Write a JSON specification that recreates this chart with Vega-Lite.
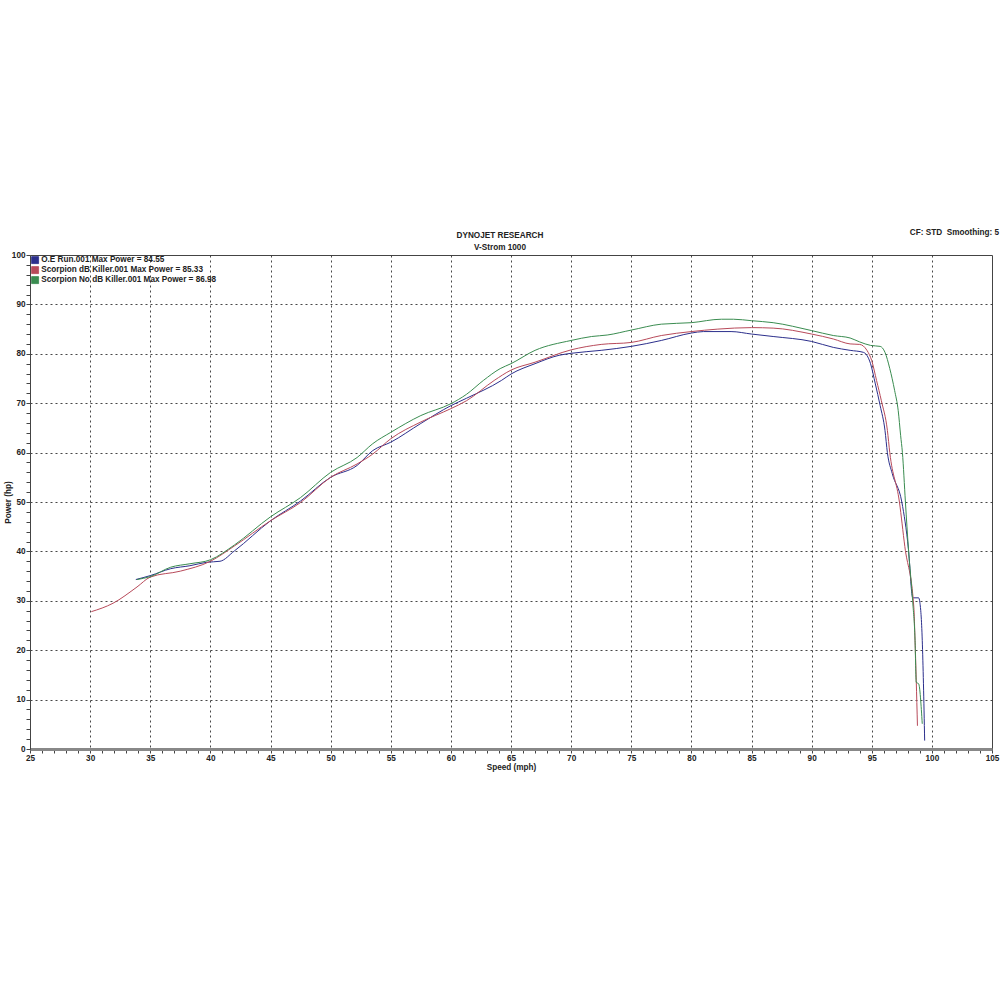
{
  "$schema": "https://vega.github.io/schema/vega-lite/v6.json",
  "width": 962,
  "height": 494,
  "autosize": "none",
  "padding": {"left": 30, "top": 255, "right": 8, "bottom": 251},
  "background": "white",
  "title": {
    "text": ["DYNOJET RESEARCH", "V-Strom 1000"],
    "font": "Liberation Sans",
    "fontSize": 8.2,
    "fontWeight": "bold",
    "color": "#222222",
    "lineHeight": 12,
    "offset": -24,
    "dx": -11
  },
  "config": {
    "view": {"stroke": "#444444", "strokeWidth": 1},
    "font": "Liberation Sans"
  },
  "datasets": {
    "runs": [
      {"series": "O.E Run.001 Max Power = 84.55", "mph": 33.8, "hp": 34.3},
      {"series": "O.E Run.001 Max Power = 84.55", "mph": 35.0, "hp": 35.1},
      {"series": "O.E Run.001 Max Power = 84.55", "mph": 36.7, "hp": 36.5},
      {"series": "O.E Run.001 Max Power = 84.55", "mph": 38.3, "hp": 37.1},
      {"series": "O.E Run.001 Max Power = 84.55", "mph": 39.7, "hp": 37.8},
      {"series": "O.E Run.001 Max Power = 84.55", "mph": 40.8, "hp": 38.0},
      {"series": "O.E Run.001 Max Power = 84.55", "mph": 42.0, "hp": 40.1},
      {"series": "O.E Run.001 Max Power = 84.55", "mph": 45.0, "hp": 46.2},
      {"series": "O.E Run.001 Max Power = 84.55", "mph": 47.5, "hp": 50.2},
      {"series": "O.E Run.001 Max Power = 84.55", "mph": 50.0, "hp": 55.0},
      {"series": "O.E Run.001 Max Power = 84.55", "mph": 52.2, "hp": 57.4},
      {"series": "O.E Run.001 Max Power = 84.55", "mph": 53.5, "hp": 60.4},
      {"series": "O.E Run.001 Max Power = 84.55", "mph": 55.0, "hp": 62.1},
      {"series": "O.E Run.001 Max Power = 84.55", "mph": 57.5, "hp": 65.9},
      {"series": "O.E Run.001 Max Power = 84.55", "mph": 60.0, "hp": 69.5},
      {"series": "O.E Run.001 Max Power = 84.55", "mph": 61.3, "hp": 71.0},
      {"series": "O.E Run.001 Max Power = 84.55", "mph": 64.2, "hp": 74.6},
      {"series": "O.E Run.001 Max Power = 84.55", "mph": 65.0, "hp": 75.9},
      {"series": "O.E Run.001 Max Power = 84.55", "mph": 67.0, "hp": 78.0},
      {"series": "O.E Run.001 Max Power = 84.55", "mph": 69.0, "hp": 79.7},
      {"series": "O.E Run.001 Max Power = 84.55", "mph": 70.0, "hp": 80.1},
      {"series": "O.E Run.001 Max Power = 84.55", "mph": 72.5, "hp": 80.7},
      {"series": "O.E Run.001 Max Power = 84.55", "mph": 75.0, "hp": 81.5},
      {"series": "O.E Run.001 Max Power = 84.55", "mph": 77.5, "hp": 82.7},
      {"series": "O.E Run.001 Max Power = 84.55", "mph": 80.0, "hp": 84.2},
      {"series": "O.E Run.001 Max Power = 84.55", "mph": 81.0, "hp": 84.5},
      {"series": "O.E Run.001 Max Power = 84.55", "mph": 83.3, "hp": 84.5},
      {"series": "O.E Run.001 Max Power = 84.55", "mph": 85.0, "hp": 84.0},
      {"series": "O.E Run.001 Max Power = 84.55", "mph": 86.8, "hp": 83.5},
      {"series": "O.E Run.001 Max Power = 84.55", "mph": 90.0, "hp": 82.5},
      {"series": "O.E Run.001 Max Power = 84.55", "mph": 91.8, "hp": 81.3},
      {"series": "O.E Run.001 Max Power = 84.55", "mph": 93.2, "hp": 80.7},
      {"series": "O.E Run.001 Max Power = 84.55", "mph": 94.3, "hp": 80.3},
      {"series": "O.E Run.001 Max Power = 84.55", "mph": 94.9, "hp": 78.0},
      {"series": "O.E Run.001 Max Power = 84.55", "mph": 95.3, "hp": 73.9},
      {"series": "O.E Run.001 Max Power = 84.55", "mph": 95.7, "hp": 69.5},
      {"series": "O.E Run.001 Max Power = 84.55", "mph": 96.1, "hp": 64.5},
      {"series": "O.E Run.001 Max Power = 84.55", "mph": 96.3, "hp": 60.0},
      {"series": "O.E Run.001 Max Power = 84.55", "mph": 96.7, "hp": 55.8},
      {"series": "O.E Run.001 Max Power = 84.55", "mph": 97.5, "hp": 50.0},
      {"series": "O.E Run.001 Max Power = 84.55", "mph": 98.05, "hp": 40.5},
      {"series": "O.E Run.001 Max Power = 84.55", "mph": 98.4, "hp": 30.7},
      {"series": "O.E Run.001 Max Power = 84.55", "mph": 98.5, "hp": 30.6},
      {"series": "O.E Run.001 Max Power = 84.55", "mph": 98.9, "hp": 30.6},
      {"series": "O.E Run.001 Max Power = 84.55", "mph": 99.0, "hp": 29.7},
      {"series": "O.E Run.001 Max Power = 84.55", "mph": 99.2, "hp": 22.0},
      {"series": "O.E Run.001 Max Power = 84.55", "mph": 99.3, "hp": 13.2},
      {"series": "O.E Run.001 Max Power = 84.55", "mph": 99.4, "hp": 1.7},

      {"series": "Scorpion dB Killer.001 Max Power = 85.33", "mph": 30.1, "hp": 27.8},
      {"series": "Scorpion dB Killer.001 Max Power = 85.33", "mph": 31.9, "hp": 29.5},
      {"series": "Scorpion dB Killer.001 Max Power = 85.33", "mph": 33.9, "hp": 32.8},
      {"series": "Scorpion dB Killer.001 Max Power = 85.33", "mph": 35.0, "hp": 34.8},
      {"series": "Scorpion dB Killer.001 Max Power = 85.33", "mph": 37.5, "hp": 36.0},
      {"series": "Scorpion dB Killer.001 Max Power = 85.33", "mph": 40.0, "hp": 38.0},
      {"series": "Scorpion dB Killer.001 Max Power = 85.33", "mph": 42.0, "hp": 41.1},
      {"series": "Scorpion dB Killer.001 Max Power = 85.33", "mph": 45.0, "hp": 46.2},
      {"series": "Scorpion dB Killer.001 Max Power = 85.33", "mph": 47.5, "hp": 49.9},
      {"series": "Scorpion dB Killer.001 Max Power = 85.33", "mph": 50.0, "hp": 55.0},
      {"series": "Scorpion dB Killer.001 Max Power = 85.33", "mph": 52.2, "hp": 57.7},
      {"series": "Scorpion dB Killer.001 Max Power = 85.33", "mph": 53.5, "hp": 59.7},
      {"series": "Scorpion dB Killer.001 Max Power = 85.33", "mph": 55.0, "hp": 62.8},
      {"series": "Scorpion dB Killer.001 Max Power = 85.33", "mph": 57.5, "hp": 66.2},
      {"series": "Scorpion dB Killer.001 Max Power = 85.33", "mph": 60.0, "hp": 68.9},
      {"series": "Scorpion dB Killer.001 Max Power = 85.33", "mph": 61.3, "hp": 70.5},
      {"series": "Scorpion dB Killer.001 Max Power = 85.33", "mph": 63.6, "hp": 74.6},
      {"series": "Scorpion dB Killer.001 Max Power = 85.33", "mph": 65.0, "hp": 76.7},
      {"series": "Scorpion dB Killer.001 Max Power = 85.33", "mph": 67.0, "hp": 78.3},
      {"series": "Scorpion dB Killer.001 Max Power = 85.33", "mph": 70.0, "hp": 80.8},
      {"series": "Scorpion dB Killer.001 Max Power = 85.33", "mph": 72.5, "hp": 81.9},
      {"series": "Scorpion dB Killer.001 Max Power = 85.33", "mph": 75.0, "hp": 82.3},
      {"series": "Scorpion dB Killer.001 Max Power = 85.33", "mph": 77.5, "hp": 83.7},
      {"series": "Scorpion dB Killer.001 Max Power = 85.33", "mph": 80.0, "hp": 84.5},
      {"series": "Scorpion dB Killer.001 Max Power = 85.33", "mph": 82.2, "hp": 85.0},
      {"series": "Scorpion dB Killer.001 Max Power = 85.33", "mph": 85.0, "hp": 85.3},
      {"series": "Scorpion dB Killer.001 Max Power = 85.33", "mph": 86.8, "hp": 85.2},
      {"series": "Scorpion dB Killer.001 Max Power = 85.33", "mph": 90.0, "hp": 84.0},
      {"series": "Scorpion dB Killer.001 Max Power = 85.33", "mph": 91.8, "hp": 83.0},
      {"series": "Scorpion dB Killer.001 Max Power = 85.33", "mph": 93.2, "hp": 82.0},
      {"series": "Scorpion dB Killer.001 Max Power = 85.33", "mph": 94.0, "hp": 81.9},
      {"series": "Scorpion dB Killer.001 Max Power = 85.33", "mph": 94.6, "hp": 80.7},
      {"series": "Scorpion dB Killer.001 Max Power = 85.33", "mph": 95.0, "hp": 78.6},
      {"series": "Scorpion dB Killer.001 Max Power = 85.33", "mph": 95.4, "hp": 74.6},
      {"series": "Scorpion dB Killer.001 Max Power = 85.33", "mph": 95.8, "hp": 70.5},
      {"series": "Scorpion dB Killer.001 Max Power = 85.33", "mph": 96.3, "hp": 64.5},
      {"series": "Scorpion dB Killer.001 Max Power = 85.33", "mph": 96.5, "hp": 60.0},
      {"series": "Scorpion dB Killer.001 Max Power = 85.33", "mph": 97.3, "hp": 50.0},
      {"series": "Scorpion dB Killer.001 Max Power = 85.33", "mph": 97.75, "hp": 41.0},
      {"series": "Scorpion dB Killer.001 Max Power = 85.33", "mph": 98.5, "hp": 28.7},
      {"series": "Scorpion dB Killer.001 Max Power = 85.33", "mph": 98.6, "hp": 22.0},
      {"series": "Scorpion dB Killer.001 Max Power = 85.33", "mph": 98.7, "hp": 13.9},
      {"series": "Scorpion dB Killer.001 Max Power = 85.33", "mph": 98.8, "hp": 4.7},

      {"series": "Scorpion No dB Killer.001 Max Power = 86.98", "mph": 33.9, "hp": 34.3},
      {"series": "Scorpion No dB Killer.001 Max Power = 86.98", "mph": 35.0, "hp": 34.9},
      {"series": "Scorpion No dB Killer.001 Max Power = 86.98", "mph": 36.7, "hp": 36.8},
      {"series": "Scorpion No dB Killer.001 Max Power = 86.98", "mph": 38.3, "hp": 37.5},
      {"series": "Scorpion No dB Killer.001 Max Power = 86.98", "mph": 40.0, "hp": 38.3},
      {"series": "Scorpion No dB Killer.001 Max Power = 86.98", "mph": 42.0, "hp": 41.3},
      {"series": "Scorpion No dB Killer.001 Max Power = 86.98", "mph": 45.0, "hp": 47.0},
      {"series": "Scorpion No dB Killer.001 Max Power = 86.98", "mph": 47.5, "hp": 50.9},
      {"series": "Scorpion No dB Killer.001 Max Power = 86.98", "mph": 50.0, "hp": 56.0},
      {"series": "Scorpion No dB Killer.001 Max Power = 86.98", "mph": 52.2, "hp": 59.0},
      {"series": "Scorpion No dB Killer.001 Max Power = 86.98", "mph": 53.5, "hp": 61.8},
      {"series": "Scorpion No dB Killer.001 Max Power = 86.98", "mph": 55.0, "hp": 64.1},
      {"series": "Scorpion No dB Killer.001 Max Power = 86.98", "mph": 57.5, "hp": 67.5},
      {"series": "Scorpion No dB Killer.001 Max Power = 86.98", "mph": 60.0, "hp": 69.9},
      {"series": "Scorpion No dB Killer.001 Max Power = 86.98", "mph": 61.3, "hp": 71.8},
      {"series": "Scorpion No dB Killer.001 Max Power = 86.98", "mph": 62.7, "hp": 74.6},
      {"series": "Scorpion No dB Killer.001 Max Power = 86.98", "mph": 64.1, "hp": 77.0},
      {"series": "Scorpion No dB Killer.001 Max Power = 86.98", "mph": 65.0, "hp": 78.0},
      {"series": "Scorpion No dB Killer.001 Max Power = 86.98", "mph": 67.0, "hp": 80.7},
      {"series": "Scorpion No dB Killer.001 Max Power = 86.98", "mph": 70.0, "hp": 82.7},
      {"series": "Scorpion No dB Killer.001 Max Power = 86.98", "mph": 71.7, "hp": 83.5},
      {"series": "Scorpion No dB Killer.001 Max Power = 86.98", "mph": 73.0, "hp": 83.8},
      {"series": "Scorpion No dB Killer.001 Max Power = 86.98", "mph": 75.0, "hp": 84.8},
      {"series": "Scorpion No dB Killer.001 Max Power = 86.98", "mph": 77.5, "hp": 86.0},
      {"series": "Scorpion No dB Killer.001 Max Power = 86.98", "mph": 80.0, "hp": 86.3},
      {"series": "Scorpion No dB Killer.001 Max Power = 86.98", "mph": 82.5, "hp": 87.0},
      {"series": "Scorpion No dB Killer.001 Max Power = 86.98", "mph": 83.5, "hp": 87.0},
      {"series": "Scorpion No dB Killer.001 Max Power = 86.98", "mph": 85.0, "hp": 86.7},
      {"series": "Scorpion No dB Killer.001 Max Power = 86.98", "mph": 86.8, "hp": 86.3},
      {"series": "Scorpion No dB Killer.001 Max Power = 86.98", "mph": 90.0, "hp": 84.7},
      {"series": "Scorpion No dB Killer.001 Max Power = 86.98", "mph": 91.8, "hp": 83.7},
      {"series": "Scorpion No dB Killer.001 Max Power = 86.98", "mph": 93.2, "hp": 83.2},
      {"series": "Scorpion No dB Killer.001 Max Power = 86.98", "mph": 94.0, "hp": 82.4},
      {"series": "Scorpion No dB Killer.001 Max Power = 86.98", "mph": 94.9, "hp": 81.7},
      {"series": "Scorpion No dB Killer.001 Max Power = 86.98", "mph": 95.7, "hp": 81.5},
      {"series": "Scorpion No dB Killer.001 Max Power = 86.98", "mph": 96.1, "hp": 80.3},
      {"series": "Scorpion No dB Killer.001 Max Power = 86.98", "mph": 96.5, "hp": 77.0},
      {"series": "Scorpion No dB Killer.001 Max Power = 86.98", "mph": 96.9, "hp": 72.6},
      {"series": "Scorpion No dB Killer.001 Max Power = 86.98", "mph": 97.2, "hp": 68.5},
      {"series": "Scorpion No dB Killer.001 Max Power = 86.98", "mph": 97.4, "hp": 63.5},
      {"series": "Scorpion No dB Killer.001 Max Power = 86.98", "mph": 97.55, "hp": 60.0},
      {"series": "Scorpion No dB Killer.001 Max Power = 86.98", "mph": 97.8, "hp": 50.0},
      {"series": "Scorpion No dB Killer.001 Max Power = 86.98", "mph": 98.05, "hp": 40.5},
      {"series": "Scorpion No dB Killer.001 Max Power = 86.98", "mph": 98.4, "hp": 30.0},
      {"series": "Scorpion No dB Killer.001 Max Power = 86.98", "mph": 98.6, "hp": 22.0},
      {"series": "Scorpion No dB Killer.001 Max Power = 86.98", "mph": 98.7, "hp": 13.5},
      {"series": "Scorpion No dB Killer.001 Max Power = 86.98", "mph": 98.9, "hp": 13.2},
      {"series": "Scorpion No dB Killer.001 Max Power = 86.98", "mph": 99.2, "hp": 5.1}
    ],
    "note": [{"label": "CF: STD\u00a0 Smoothing: 5", "mph": 105, "hp": 104.4}]
  },
  "layer": [
    {
      "data": {"name": "runs"},
      "mark": {"type": "line", "strokeWidth": 1, "interpolate": "monotone", "clip": true},
      "encoding": {
        "x": {
          "field": "mph",
          "type": "quantitative",
          "scale": {"domain": [25, 105], "nice": false, "zero": false},
          "axis": {
            "title": "Speed (mph)",
            "titleFont": "Liberation Sans",
            "titleFontSize": 8.2,
            "titleFontWeight": "bold",
            "titleColor": "#222222",
            "titlePadding": 2,
            "tickCount": 200,
            "format": "d",
            "values": [25,26,27,28,29,30,31,32,33,34,35,36,37,38,39,40,41,42,43,44,45,46,47,48,49,50,51,52,53,54,55,56,57,58,59,60,61,62,63,64,65,66,67,68,69,70,71,72,73,74,75,76,77,78,79,80,81,82,83,84,85,86,87,88,89,90,91,92,93,94,95,96,97,98,99,100,101,102,103,104,105],
            "labelExpr": "datum.value % 5 === 0 ? datum.label : ''",
            "labelOverlap": false,
            "labelFlush": false,
            "labelFont": "Liberation Sans",
            "labelFontSize": 8.2,
            "labelFontWeight": "bold",
            "labelColor": "#222222",
            "labelPadding": 1,
            "tickSize": 4,
            "tickColor": "#444444",
            "domainColor": "#888888",
            "domainWidth": 3,
            "grid": true,
            "gridColor": "#333333",
            "gridDash": [2, 3],
            "gridWidth": 1,
            "gridOpacity": {"condition": {"test": "datum.value % 5 === 0 && datum.value > 25 && datum.value < 105", "value": 0.9}, "value": 0}
          }
        },
        "y": {
          "field": "hp",
          "type": "quantitative",
          "scale": {"domain": [0, 100], "nice": false},
          "axis": {
            "title": "Power (hp)",
            "titleFont": "Liberation Sans",
            "titleFontSize": 8.2,
            "titleFontWeight": "bold",
            "titleColor": "#222222",
            "titlePadding": -1,
            "tickCount": 200,
            "format": "d",
            "values": [0,2,4,6,8,10,12,14,16,18,20,22,24,26,28,30,32,34,36,38,40,42,44,46,48,50,52,54,56,58,60,62,64,66,68,70,72,74,76,78,80,82,84,86,88,90,92,94,96,98,100],
            "labelExpr": "datum.value % 10 === 0 ? datum.label : ''",
            "labelOverlap": false,
            "labelFlush": false,
            "labelFont": "Liberation Sans",
            "labelFontSize": 8.2,
            "labelFontWeight": "bold",
            "labelColor": "#222222",
            "labelPadding": 1,
            "tickSize": 4,
            "tickColor": "#444444",
            "domainColor": "#444444",
            "domainWidth": 1,
            "grid": true,
            "gridColor": "#333333",
            "gridDash": [2, 3],
            "gridWidth": 1,
            "gridOpacity": {"condition": {"test": "datum.value % 10 === 0 && datum.value > 0 && datum.value < 100", "value": 0.9}, "value": 0}
          }
        },
        "color": {
          "field": "series",
          "type": "nominal",
          "scale": {
            "domain": ["O.E Run.001 Max Power = 84.55", "Scorpion dB Killer.001 Max Power = 85.33", "Scorpion No dB Killer.001 Max Power = 86.98"],
            "range": ["#2c2f8c", "#b84a5a", "#3a8c50"]
          },
          "legend": {
            "title": null,
            "orient": "top-left",
            "offset": 1,
            "padding": 0,
            "symbolType": "square",
            "symbolSize": 49,
            "symbolStrokeWidth": 0.8,
            "labelFont": "Liberation Sans",
            "labelFontSize": 8.2,
            "labelFontWeight": "bold",
            "labelColor": "#222222",
            "labelOffset": 2,
            "rowPadding": -3,
            "labelLimit": 400,
            "fillColor": null,
            "encode": {
              "symbols": {"update": {"fill": {"scale": "color", "field": "value"}, "stroke": {"value": "#333333"}, "fillOpacity": {"value": 1}}}
            }
          }
        }
      }
    },
    {
      "data": {"name": "note"},
      "mark": {"type": "text", "align": "right", "baseline": "middle", "dx": 7, "font": "Liberation Sans", "fontSize": 8.2, "fontWeight": "bold", "color": "#222222", "clip": false},
      "encoding": {
        "x": {"field": "mph", "type": "quantitative"},
        "y": {"field": "hp", "type": "quantitative"},
        "text": {"field": "label"}
      }
    }
  ]
}
